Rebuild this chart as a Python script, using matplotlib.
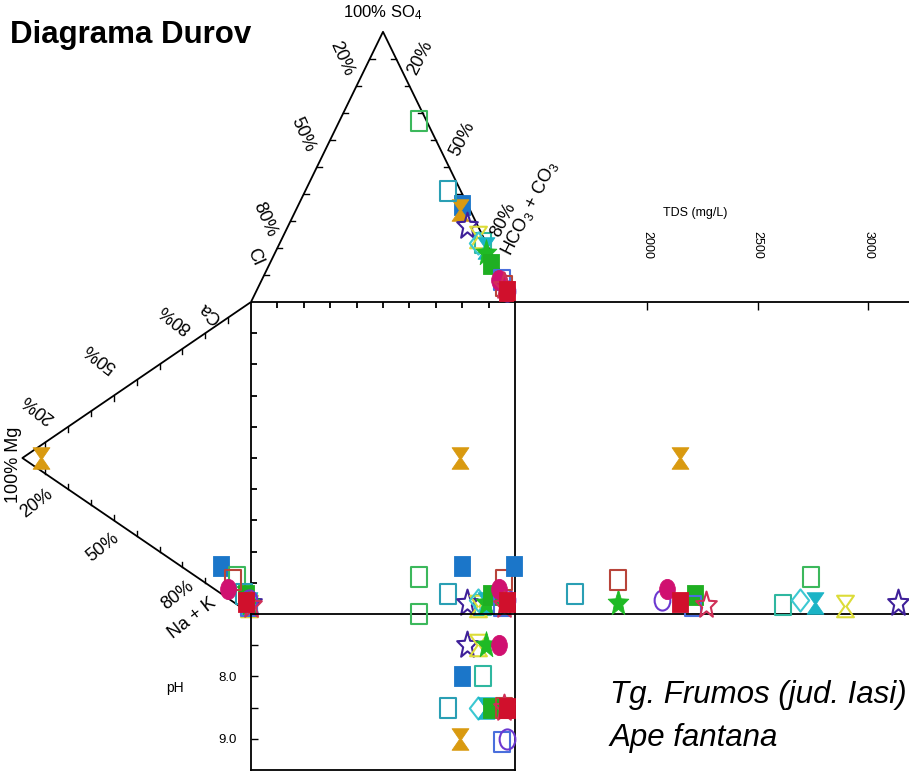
import numpy as np
import matplotlib
matplotlib.use("Agg")
import matplotlib.pyplot as plt
from matplotlib.path import Path

plt.rcParams['font.family'] = ['Liberation Sans', 'DejaVu Sans']
plt.rcParams['mathtext.fontset'] = 'custom'
plt.rcParams['mathtext.rm'] = 'Liberation Sans'
plt.rcParams['mathtext.it'] = 'Liberation Sans:italic'

# ---- water samples: cations and anions in % meq/L, TDS in mg/L ----
ca_pct   = [9, 4, 9, 5, 2.5, 3.5, 2, 4, 3, 3, 5, 2, 4, 7, 3, 3, 3]
mg_pct   = [13, 92, 6, 3, 1, 0, 1, 1, 1, 1, 2, 1, 1, 8, 10, 0, 2]
nak_pct  = [78, 4, 85, 92, 96.5, 96.5, 97, 95, 96, 96, 93, 97, 95, 85, 87, 97, 95]
cl_pct   = [2, 4, 3, 5, 1, 4, 2, 3, 1, 2, 2, 1, 1, 1, 2, 1, 1]
so4_pct  = [36, 34, 67, 41, 22, 28, 24, 22, 20, 18, 14, 8, 4, 6, 8, 6, 4]
hco3_pct = [62, 62, 30, 54, 77, 68, 74, 75, 79, 80, 84, 91, 95, 93, 90, 93, 95]
tds_mgl  = [1400, 2150, 2740, 1675, 2615, 3135, 2895, 2690, 2760, 1870,
            2215, 2210, 2070, 1870, 2090, 2265, 2150]
ph_val   = [8.0, 9.0, 7.0, 8.5, 8.0, 7.5, 7.5, 8.5, 8.5, 7.5,
            8.5, 9.05, 9.0, 8.5, 7.5, 8.5, 8.5]

tds_ticks = [2000, 2500, 3000]
ph_ticks = [7.5, 8.0, 8.5, 9.0]
ph_ticklabels = ['', '8.0', '', '9.0']

# symbol for each sample: (shape, colour, filled)
symbols = [
    ('square',    '#1b76c9', True),
    ('hourglass', '#d99a10', True),
    ('square',    '#3cb85c', False),
    ('square',    '#2a9fb4', False),
    ('square',    '#2fb7a0', False),
    ('star',      '#3f2099', False),
    ('hourglass', '#dcdc38', False),
    ('diamond',   '#3cc8d2', False),
    ('hourglass', '#1bb4c6', True),
    ('star',      '#1fba25', True),
    ('square',    '#1faf22', True),
    ('square',    '#4a6fdc', False),
    ('circle',    '#6c38d0', False),
    ('square',    '#b8443a', False),
    ('circle',    '#d01070', True),
    ('star',      '#d03058', False),
    ('square',    '#d0102c', True),
]

W, H = 909, 772
SY = 1.28  # symbols are drawn slightly taller than wide


def shape_path(kind):
    if kind == 'circle':
        c = Path.unit_circle()
        return Path(c.vertices * [1, SY], c.codes)
    if kind == 'square':
        v = [(-1, -1), (1, -1), (1, 1), (-1, 1), (-1, -1)]
    elif kind == 'diamond':
        v = [(0, -1), (1, 0), (0, 1), (-1, 0), (0, -1)]
    elif kind == 'hourglass':
        v = [(-1, 1), (1, 1), (0.12, 0), (1, -1), (-1, -1), (-0.12, 0), (-1, 1)]
    else:  # star
        k = np.arange(10)
        ang = np.pi / 2 + k * np.pi / 5
        r = np.where(k % 2 == 0, 1.0, 0.42)
        v = list(zip(r * np.cos(ang), r * np.sin(ang))) + [(0, 1)]
    v = np.asarray(v, float) * [1, SY]
    codes = [Path.MOVETO] + [Path.LINETO] * (len(v) - 2) + [Path.CLOSEPOLY]
    return Path(v, codes)


marker_size = {'square': 15, 'diamond': 16, 'hourglass': 15.5, 'star': 20, 'circle': 14.5}

fig = plt.figure(figsize=(W / 100, H / 100), dpi=100)

# main drawing area: square 0..100 in both directions, triangles outside
ax = fig.add_axes([0, 0, 1, 1])
ax.set_xlim(-251 / 2.64, (W - 251) / 2.64)
ax.set_ylim((614 - H) / 3.12, 614 / 3.12)
ax.axis('off')

R3 = np.sqrt(3) / 2
LW = 1.3
K = dict(color='black', lw=LW, solid_capstyle='butt', zorder=2)

# central square edges
ax.plot([0, 100], [100, 100], **K)
ax.plot([0, 0], [0, 100], **K)
ax.plot([100, 100], [0, 100], **K)
# anion triangle (Cl - SO4 - HCO3+CO3) and cation triangle (Ca - Mg - Na+K)
top = np.array([[0, 100], [50, 100 + 100 * R3], [100, 100]])
left = np.array([[0, 100], [-100 * R3, 50], [0, 0]])
ax.plot(top[:, 0], top[:, 1], **K)
ax.plot(left[:, 0], left[:, 1], **K)

# square ticks (every 10 %)
for t in range(10, 100, 10):
    ax.plot([0, 2.4], [t, t], **K)
    ax.plot([t, t], [100, 98.0], **K)


def side_ticks(a, b, inward):
    a, b = np.asarray(a, float), np.asarray(b, float)
    for f in np.arange(0.1, 0.95, 0.1):
        p = a + f * (b - a)
        q = p + inward
        ax.plot([p[0], q[0]], [p[1], q[1]], color='black', lw=1.0, zorder=2)


side_ticks(top[0], top[1], (1.8, 0))
side_ticks(top[1], top[2], (-1.8, 0))
side_ticks(left[0], left[1], (0, -1.6))
side_ticks(left[1], left[2], (0, 1.6))

# TDS panel to the right of the square
tds_ax = fig.add_axes([515 / W, (H - 614) / H, (W - 515) / W, 312 / H])
tds_ax.set_facecolor('none')
tds_ax.set_xlim(1403, 3185)
tds_ax.set_ylim(0, 100)
for s in ('left', 'right'):
    tds_ax.spines[s].set_visible(False)
for s in ('top', 'bottom'):
    tds_ax.spines[s].set_linewidth(LW)
tds_ax.set_yticks([])
tds_ax.xaxis.set_ticks_position('top')
tds_ax.set_xticks(tds_ticks)
tds_ax.set_xticklabels([str(t) for t in tds_ticks], rotation=-90, fontsize=9)
tds_ax.tick_params(axis='x', direction='in', length=6, width=1.0, pad=31)

# pH panel below the square
ph_ax = fig.add_axes([251 / W, (H - 770) / H, 264 / W, 156 / H])
ph_ax.set_facecolor('none')
ph_ax.set_xlim(0, 100)
ph_ax.set_ylim(9.5, 7.0)
for s in ph_ax.spines.values():
    s.set_linewidth(LW)
ph_ax.set_xticks([])
ph_ax.set_yticks(ph_ticks)
ph_ax.set_yticklabels(ph_ticklabels, fontsize=9.5)
ph_ax.tick_params(axis='y', direction='in', length=5, width=1.0, pad=10)

# samples
for i, (kind, col, filled) in enumerate(symbols):
    ca, mg = ca_pct[i], mg_pct[i]
    so4, hco3 = so4_pct[i], hco3_pct[i]
    cat_x, cat_y = -R3 * mg, ca + mg / 2
    an_x, an_y = hco3 + so4 / 2, 100 + R3 * so4
    style = dict(marker=shape_path(kind), ms=marker_size[kind], ls='none',
                 mec=col, mfc=col if filled else 'none',
                 mew=0.6 if filled else 1.5, clip_on=False, zorder=5 + i)
    ax.plot([cat_x], [cat_y], **style)
    ax.plot([an_x], [an_y], **style)
    ax.plot([an_x], [cat_y], **style)
    tds_ax.plot([tds_mgl[i]], [cat_y], **style)
    ph_ax.plot([an_x], [ph_val[i]], **style)


def label(px, py, s, **kw):
    kw.setdefault('ha', 'center')
    kw.setdefault('va', 'center')
    fig.text(px / W, 1 - py / H, s, **kw)


label(10, 35, 'Diagrama Durov', ha='left', fontsize=22.5, fontweight='bold')
label(383, 13, '100% SO$_4$', fontsize=12)
label(695, 213, 'TDS (mg/L)', fontsize=9)
label(175, 688, 'pH', fontsize=10)
label(13, 465, '100% Mg', rotation=90, fontsize=13)

pct = dict(fontsize=13, rotation_mode='anchor')
for (x, y, s) in [(342, 59, '20%'), (303, 135, '50%'), (265, 220, '80%'), (255, 257, 'Cl')]:
    label(x, y, s, rotation=-66, **pct)
for (x, y, s) in [(420, 58, '20%'), (463, 139, '50%'), (503, 220, '80%'),
                  (530, 208, 'HCO$_3$ + CO$_3$')]:
    label(x, y, s, rotation=63, **pct)
for (x, y, s) in [(38, 408, '20%'), (100, 357, '50%'), (175, 318, '80%'), (210, 313, 'Ca')]:
    label(x, y, s, rotation=142, **pct)
for (x, y, s) in [(37, 503, '20%'), (103, 547, '50%'), (178, 595, '80%'), (192, 618, 'Na + K')]:
    label(x, y, s, rotation=38, **pct)

label(610, 695, 'Tg. Frumos (jud. Iasi)', ha='left', fontsize=22.5, style='italic')
label(610, 738, 'Ape fantana', ha='left', fontsize=22.5, style='italic')

fig.savefig('out.png', dpi=100)
